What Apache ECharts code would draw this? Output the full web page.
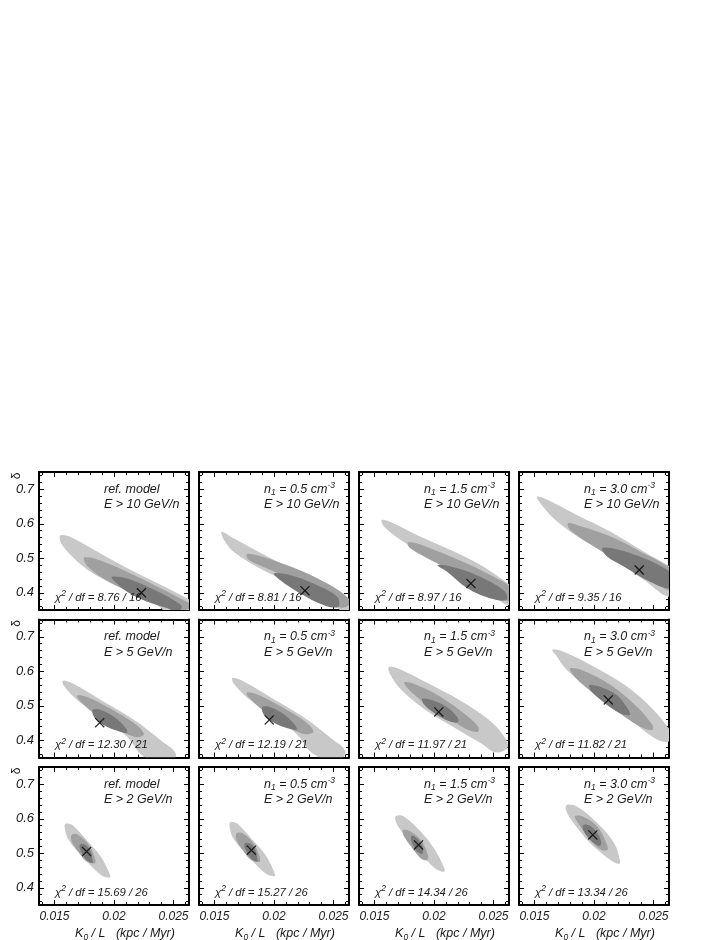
<!DOCTYPE html>
<html>
<head>
<meta charset="utf-8">
<script src="https://cdn.jsdelivr.net/npm/echarts@6/dist/echarts.min.js"></script>
<style>
html,body{margin:0;padding:0;background:#fff;}
#main{width:727px;height:940px;}
</style>
</head>
<body>
<div id="main"></div>
<script>
// axes: K0/L (kpc/Myr) horizontal, delta vertical
var xRange = [0.0137, 0.0263];
var yRange = [0.35, 0.75];
var xTickLabels = [0.015, 0.02, 0.025];
var yTickLabels = [0.4, 0.5, 0.6, 0.7];

// rows = energy cut, columns = n1 density (null = ref. model)
var energyCuts = [10, 5, 2];
var densities = [null, '0.5', '1.5', '3.0'];
var chi2 = [[8.76, 8.81, 8.97, 9.35], [12.30, 12.19, 11.97, 11.82], [15.69, 15.27, 14.34, 13.34]];
var dof = [16, 21, 26];

// best fit point per panel (row by row)
var bestFit = [
  [0.0223, 0.400], [0.0226, 0.406], [0.0231, 0.427], [0.0238, 0.466],
  [0.0188, 0.451], [0.0196, 0.459], [0.0204, 0.482], [0.0212, 0.517],
  [0.0177, 0.505], [0.0181, 0.509], [0.0187, 0.524], [0.0199, 0.553]
];

// outer contour (light grey), vertices
var outer = [
  [[0.0155,0.566],[0.0163,0.562],[0.0190,0.511],[0.0217,0.461],[0.0245,0.413],[0.0264,0.379],[0.0285,0.345],[0.0250,0.320],[0.0239,0.357],[0.0228,0.379],[0.0203,0.418],[0.0178,0.466],[0.0161,0.519],[0.0155,0.548]],
  [[0.0156,0.577],[0.0166,0.558],[0.0200,0.495],[0.0228,0.446],[0.0259,0.389],[0.0275,0.360],[0.0262,0.335],[0.0253,0.357],[0.0242,0.384],[0.0214,0.427],[0.0186,0.475],[0.0166,0.519],[0.0158,0.553]],
  [[0.0156,0.611],[0.0163,0.606],[0.0186,0.567],[0.0214,0.524],[0.0242,0.475],[0.0264,0.422],[0.0272,0.400],[0.0264,0.364],[0.0250,0.389],[0.0228,0.437],[0.0200,0.495],[0.0172,0.553],[0.0158,0.592]],
  [[0.0152,0.678],[0.0158,0.674],[0.0186,0.625],[0.0214,0.577],[0.0242,0.519],[0.0264,0.475],[0.0272,0.450],[0.0264,0.389],[0.0242,0.437],[0.0214,0.505],[0.0186,0.563],[0.0166,0.616],[0.0154,0.664]],
  [[0.0157,0.573],[0.0165,0.565],[0.0189,0.517],[0.0217,0.459],[0.0239,0.401],[0.0252,0.360],[0.0245,0.330],[0.0225,0.352],[0.0211,0.410],[0.0189,0.468],[0.0169,0.517],[0.0158,0.557]],
  [[0.0165,0.581],[0.0173,0.573],[0.0197,0.525],[0.0225,0.467],[0.0247,0.409],[0.0260,0.368],[0.0253,0.338],[0.0233,0.360],[0.0219,0.418],[0.0197,0.476],[0.0177,0.525],[0.0166,0.565]],
  [[0.0162,0.612],[0.0170,0.608],[0.0195,0.565],[0.0222,0.515],[0.0245,0.462],[0.0258,0.415],[0.0262,0.380],[0.0252,0.365],[0.0240,0.390],[0.0217,0.437],[0.0192,0.490],[0.0172,0.548],[0.0163,0.592]],
  [[0.0165,0.662],[0.0172,0.660],[0.0200,0.613],[0.0228,0.555],[0.0250,0.488],[0.0263,0.434],[0.0268,0.410],[0.0261,0.395],[0.0250,0.408],[0.0228,0.466],[0.0200,0.536],[0.0177,0.604],[0.0168,0.647]],
  [[0.0159,0.585],[0.0165,0.582],[0.0177,0.538],[0.0189,0.490],[0.0197,0.434],[0.0196,0.429],[0.0189,0.437],[0.0175,0.485],[0.0162,0.538],[0.0159,0.567]],
  [[0.0163,0.589],[0.0169,0.586],[0.0181,0.542],[0.0193,0.494],[0.0201,0.438],[0.0200,0.433],[0.0193,0.441],[0.0179,0.489],[0.0166,0.542],[0.0163,0.571]],
  [[0.0168,0.608],[0.0175,0.606],[0.0189,0.562],[0.0201,0.509],[0.0209,0.453],[0.0208,0.446],[0.0201,0.456],[0.0186,0.509],[0.0173,0.562],[0.0168,0.591]],
  [[0.0177,0.640],[0.0186,0.635],[0.0203,0.587],[0.0217,0.529],[0.0222,0.476],[0.0221,0.469],[0.0214,0.480],[0.0197,0.529],[0.0183,0.587],[0.0177,0.620]]
];

// middle contour (mid grey)
var middle = [
  [[0.0175,0.502],[0.0189,0.493],[0.0217,0.451],[0.0245,0.403],[0.0261,0.374],[0.0268,0.360],[0.0253,0.350],[0.0233,0.374],[0.0211,0.406],[0.0189,0.446],[0.0177,0.480]],
  [[0.0177,0.512],[0.0186,0.509],[0.0214,0.476],[0.0242,0.432],[0.0261,0.389],[0.0263,0.365],[0.0256,0.357],[0.0247,0.379],[0.0225,0.422],[0.0197,0.466],[0.0179,0.495]],
  [[0.0178,0.545],[0.0186,0.543],[0.0214,0.505],[0.0242,0.461],[0.0266,0.413],[0.0268,0.390],[0.0264,0.374],[0.0250,0.398],[0.0228,0.442],[0.0200,0.490],[0.0180,0.529]],
  [[0.0178,0.601],[0.0186,0.596],[0.0214,0.563],[0.0242,0.514],[0.0264,0.471],[0.0270,0.440],[0.0264,0.408],[0.0250,0.432],[0.0228,0.476],[0.0200,0.534],[0.0180,0.582]],
  [[0.0169,0.529],[0.0177,0.526],[0.0194,0.497],[0.0211,0.463],[0.0222,0.435],[0.0225,0.415],[0.0217,0.410],[0.0200,0.439],[0.0183,0.478],[0.0172,0.512]],
  [[0.0177,0.537],[0.0185,0.534],[0.0202,0.505],[0.0219,0.471],[0.0230,0.443],[0.0233,0.423],[0.0225,0.418],[0.0208,0.447],[0.0191,0.486],[0.0180,0.520]],
  [[0.0175,0.568],[0.0183,0.564],[0.0205,0.527],[0.0225,0.478],[0.0237,0.440],[0.0237,0.425],[0.0230,0.428],[0.0212,0.464],[0.0192,0.508],[0.0178,0.550]],
  [[0.0180,0.608],[0.0189,0.604],[0.0214,0.560],[0.0236,0.497],[0.0249,0.444],[0.0249,0.430],[0.0239,0.439],[0.0214,0.497],[0.0191,0.560],[0.0182,0.592]],
  [[0.0165,0.555],[0.0170,0.553],[0.0179,0.524],[0.0184,0.485],[0.0184,0.471],[0.0177,0.476],[0.0170,0.504],[0.0164,0.538]],
  [[0.0169,0.559],[0.0174,0.557],[0.0183,0.528],[0.0188,0.489],[0.0188,0.475],[0.0181,0.480],[0.0174,0.508],[0.0168,0.542]],
  [[0.0174,0.567],[0.0180,0.564],[0.0189,0.538],[0.0195,0.494],[0.0194,0.480],[0.0189,0.485],[0.0182,0.514],[0.0175,0.548]],
  [[0.0184,0.608],[0.0191,0.606],[0.0203,0.577],[0.0211,0.524],[0.0211,0.509],[0.0204,0.514],[0.0194,0.553],[0.0186,0.591]]
];

// inner contour (dark grey)
var inner = [
  [[0.0198,0.446],[0.0211,0.441],[0.0231,0.413],[0.0250,0.379],[0.0257,0.359],[0.0252,0.345],[0.0245,0.355],[0.0228,0.374],[0.0211,0.403],[0.0201,0.432]],
  [[0.0200,0.456],[0.0214,0.451],[0.0233,0.427],[0.0253,0.389],[0.0254,0.359],[0.0242,0.364],[0.0222,0.398],[0.0205,0.437]],
  [[0.0203,0.480],[0.0214,0.476],[0.0236,0.451],[0.0259,0.406],[0.0261,0.379],[0.0247,0.384],[0.0228,0.413],[0.0211,0.461]],
  [[0.0207,0.529],[0.0219,0.526],[0.0242,0.500],[0.0264,0.461],[0.0268,0.440],[0.0264,0.413],[0.0247,0.432],[0.0225,0.476],[0.0211,0.505]],
  [[0.0182,0.488],[0.0189,0.488],[0.0200,0.468],[0.0210,0.435],[0.0211,0.422],[0.0205,0.425],[0.0194,0.439],[0.0184,0.464]],
  [[0.0190,0.496],[0.0197,0.496],[0.0208,0.476],[0.0218,0.443],[0.0219,0.430],[0.0213,0.433],[0.0202,0.447],[0.0192,0.472]],
  [[0.0190,0.520],[0.0198,0.517],[0.0211,0.496],[0.0220,0.465],[0.0220,0.452],[0.0213,0.455],[0.0202,0.475],[0.0192,0.502]],
  [[0.0196,0.560],[0.0205,0.555],[0.0219,0.531],[0.0229,0.488],[0.0230,0.473],[0.0222,0.478],[0.0211,0.502],[0.0198,0.541]],
  [[0.0172,0.526],[0.0176,0.524],[0.0180,0.509],[0.0182,0.480],[0.0182,0.472],[0.0177,0.480],[0.0173,0.500],[0.0171,0.519]],
  [[0.0176,0.530],[0.0180,0.528],[0.0184,0.513],[0.0186,0.484],[0.0186,0.476],[0.0181,0.484],[0.0177,0.504],[0.0175,0.523]],
  [[0.0181,0.550],[0.0184,0.548],[0.0189,0.529],[0.0191,0.509],[0.0190,0.498],[0.0186,0.504],[0.0183,0.519],[0.0181,0.536]],
  [[0.0191,0.582],[0.0197,0.579],[0.0203,0.558],[0.0206,0.533],[0.0205,0.521],[0.0200,0.529],[0.0195,0.546],[0.0191,0.567]]
];

var levels = [outer, middle, inner];
var levelColors = ['#c8c8c8', '#a0a0a0', '#787878'];

// layout
var LEFT = [39, 199, 359, 519], TOP = [472, 619.5, 767], W = 150, H = 138;
var FONT = '"Liberation Sans", Arial, Helvetica, sans-serif';
var INK = '#1a1a1a';

var chart = echarts.init(document.getElementById('main'));

function pickLabel(list) {
  return function(v) {
    for (var k = 0; k < list.length; k++) {
      if (Math.abs(v - list[k]) < 1e-9) return String(list[k]);
    }
    return '';
  };
}

function baseAxis(extra) {
  var a = {
    type: 'value',
    axisLine: {show: true, onZero: false, lineStyle: {color: '#000', width: 2}},
    axisTick: {show: true, inside: true, length: 5, lineStyle: {color: '#000', width: 1}},
    minorTick: {show: true, splitNumber: 5, length: 3, lineStyle: {color: '#000', width: 1}},
    splitLine: {show: false},
    minorSplitLine: {show: false}
  };
  return Object.assign(a, extra);
}

function richSet(size) {
  return {
    i: {fontSize: size, fontStyle: 'italic', fontFamily: FONT, fill: INK, color: INK, lineHeight: 16},
    sup: {fontSize: 8.5, fontStyle: 'italic', fontFamily: FONT, fill: INK, color: INK, lineHeight: 9, verticalAlign: 'top'},
    sub: {fontSize: 8.5, fontStyle: 'italic', fontFamily: FONT, fill: INK, color: INK, lineHeight: 9, verticalAlign: 'bottom'}
  };
}
var richBase = richSet(12.5);
var richChi = richSet(11.3);

var grid = [], xAxis = [], yAxis = [], series = [], graphic = [];

function addPanel(r, c) {
  var i = r * 4 + c;
  grid.push({left: LEFT[c], top: TOP[r], width: W, height: H, outerBoundsMode: 'none'});

  var showX = (r === 2), showY = (c === 0);
  xAxis.push(baseAxis({
    gridIndex: i, position: 'bottom', min: xRange[0], max: xRange[1], splitNumber: 3,
    axisLabel: {show: showX, margin: 6, color: INK, fontSize: 12, fontStyle: 'italic', fontFamily: FONT,
      formatter: pickLabel(xTickLabels)},
    name: showX ? '{i|K}{sub|0}{i| / L   (kpc / Myr)}' : '',
    nameLocation: 'middle', nameGap: 21,
    nameTextStyle: {rich: richBase, padding: [0, 0, 0, 22]}
  }));
  xAxis.push(baseAxis({
    gridIndex: i, position: 'top', min: xRange[0], max: xRange[1], splitNumber: 3,
    axisLabel: {show: false}
  }));
  yAxis.push(baseAxis({
    gridIndex: i, position: 'left', min: yRange[0], max: yRange[1], splitNumber: 4,
    axisLabel: {show: showY, margin: 5, color: INK, fontSize: 13, fontStyle: 'italic', fontFamily: FONT,
      formatter: pickLabel(yTickLabels)}
  }));
  yAxis.push(baseAxis({
    gridIndex: i, position: 'right', min: yRange[0], max: yRange[1], splitNumber: 4,
    axisLabel: {show: false}
  }));

  series.push({
    type: 'custom', xAxisIndex: 2 * i, yAxisIndex: 2 * i, clip: true, silent: true, z: 2,
    data: [[0], [1], [2]],
    renderItem: function(params, api) {
      var lvl = api.value(0);
      var pts = levels[lvl][i].map(function(p) { return api.coord(p); });
      var cs = params.coordSys;
      return {
        type: 'polygon',
        shape: {points: pts, smooth: 0.35},
        style: {fill: levelColors[lvl]},
        clipPath: {type: 'rect', shape: {x: cs.x, y: cs.y, width: cs.width, height: cs.height}}
      };
    }
  });
  series.push({
    type: 'scatter', xAxisIndex: 2 * i, yAxisIndex: 2 * i, silent: true, z: 5,
    symbol: 'path://M0,0.9L0.9,0L10,9.1L9.1,10ZM9.1,0L10,0.9L0.9,10L0,9.1Z',
    symbolSize: 10,
    itemStyle: {color: '#000'},
    data: [bestFit[i]]
  });

  var top = TOP[r], left = LEFT[c];
  var line1 = densities[c] === null ? '{i|ref. model}'
    : '{i|n}{sub|1}{i| = ' + densities[c] + ' cm}{sup|-3}';
  graphic.push({type: 'text', x: left + 65, y: top + 17.5, z: 100, silent: true,
    style: {text: line1, rich: richBase, verticalAlign: 'middle', align: 'left'}});
  graphic.push({type: 'text', x: left + 65, y: top + 33, z: 100, silent: true,
    style: {text: '{i|E > ' + energyCuts[r] + ' GeV/n}', rich: richBase, verticalAlign: 'middle', align: 'left'}});
  graphic.push({type: 'text', x: left + 16, y: top + 125.5, z: 100, silent: true,
    style: {text: '{i|\u03c7}{sup|2}{i| / df = ' + chi2[r][c].toFixed(2) + ' / ' + dof[r] + '}',
      rich: richChi, verticalAlign: 'middle', align: 'left'}});
}

for (var r = 0; r < 3; r++) {
  for (var c = 0; c < 4; c++) addPanel(r, c);
  graphic.push({type: 'text', x: 17, y: TOP[r] + 4, rotation: Math.PI / 2, z: 100, silent: true,
    style: {text: '\u03b4', fontSize: 12, fontFamily: FONT, fill: INK, align: 'center', verticalAlign: 'middle'}});
}

chart.setOption({
  animation: false,
  backgroundColor: '#fff',
  grid: grid,
  xAxis: xAxis,
  yAxis: yAxis,
  series: series,
  graphic: graphic
});
</script>
</body>
</html>
